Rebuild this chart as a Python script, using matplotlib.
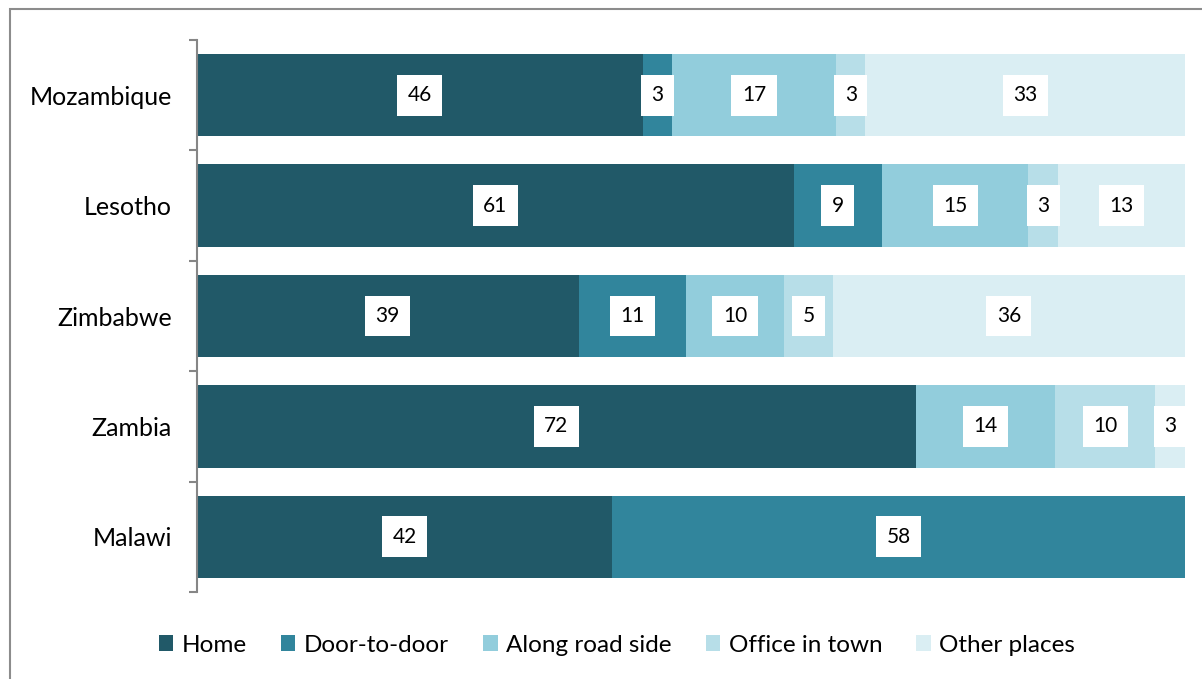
import matplotlib.pyplot as plt
from matplotlib.patches import Rectangle

# data
countries = ['Mozambique', 'Lesotho', 'Zimbabwe', 'Zambia', 'Malawi']
categories = ['Home', 'Door-to-door', 'Along road side', 'Office in town', 'Other places']
home = [46, 61, 39, 72, 42]
door = [3, 9, 11, 0, 58]
road = [17, 15, 10, 14, 0]
office = [3, 3, 5, 10, 0]
other = [33, 13, 36, 3, 0]

colors = ['#215968', '#31859C', '#92CDDC', '#B7DEE8', '#DAEEF3']
series = [home, door, road, office, other]

plt.rcParams['font.family'] = ['Lato', 'DejaVu Sans']

fig = plt.figure(figsize=(12.02, 6.79), dpi=100)
ax = fig.add_axes([197/1202, (679-592)/679, (1185-197)/1202, (592-40)/679])

# outer chart border
fig.patches.append(Rectangle((9.5/1202, -0.1), 1.2, (679-9.5)/679 + 0.1,
                             transform=fig.transFigure, fill=False,
                             edgecolor='#8c8c8c', linewidth=1.5))

ypos = list(range(len(countries)))
totals = [sum(s[i] for s in series) for i in range(len(countries))]
left = [0.0] * len(countries)
for vals, col, name in zip(series, colors, categories):
    widths = [v / t * 100 for v, t in zip(vals, totals)]
    ax.barh(ypos, widths, left=left, height=0.745, color=col, label=name)
    for i, (v, w) in enumerate(zip(vals, widths)):
        if v > 0:
            ax.text(left[i] + w / 2, ypos[i], str(v), ha='center', va='center',
                    fontsize=15, color='black',
                    bbox=dict(boxstyle='square,pad=0.5', facecolor='white',
                              edgecolor='none'))
    left = [l + w for l, w in zip(left, widths)]

ax.set_xlim(0, 100)
ax.set_ylim(len(countries) - 0.5, -0.5)
ax.set_yticks(ypos)
ax.set_yticklabels(countries, fontsize=18)
ax.set_yticks([i - 0.5 for i in range(len(countries) + 1)], minor=True)
ax.tick_params(axis='y', which='major', length=0, pad=18)
ax.tick_params(axis='y', which='minor', length=6, color='#868686', width=1.5, direction='out')
ax.set_xticks([])
for s in ['top', 'right', 'bottom']:
    ax.spines[s].set_visible(False)
ax.spines['left'].set_color('#868686')
ax.spines['left'].set_linewidth(1.5)

fig.legend(loc='center', bbox_to_anchor=(617/1202, 1 - 645/679), ncol=5,
           frameon=False, fontsize=17.5, handlelength=0.6, handleheight=0.6,
           handletextpad=0.35, columnspacing=1.4)

fig.savefig('out.png', dpi=100)
